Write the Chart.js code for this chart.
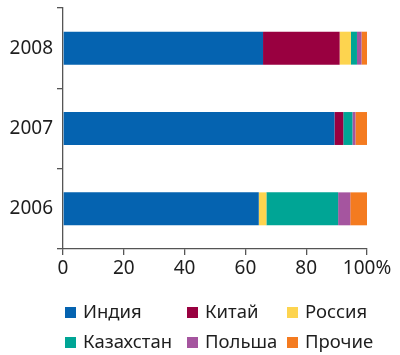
<!DOCTYPE html>
<html>
<head>
<meta charset="utf-8">
<script src="https://cdn.jsdelivr.net/npm/chart.js@4"></script>
<style>
html,body{margin:0;padding:0;background:#fff;}
#wrap{width:400px;height:355px;}
</style>
</head>
<body>
<div id="wrap"><canvas id="c" width="400" height="355"></canvas></div>
<script>
const years = ['2008', '2007', '2006'];
const seriesNames = ['Индия', 'Китай', 'Россия', 'Казахстан', 'Польша', 'Прочие'];
const india      = [65.8, 89.3, 64.4];
const china      = [25.2, 2.9, 0];
const russia     = [3.7, 0, 2.5];
const kazakhstan = [2.0, 3.0, 23.6];
const poland     = [1.5, 1.0, 4.0];
const others     = [1.8, 3.8, 5.5];
const xTickLabels = ['0', '20', '40', '60', '80', '100%'];

const colors = ['#0563b0', '#990040', '#fdd44f', '#00a595', '#a5559f', '#f47b20'];
const values = [india, china, russia, kazakhstan, poland, others];

const FONT = '"Noto Sans", "DejaVu Sans", sans-serif';

const legendPlugin = {
  id: 'gridLegend',
  afterDraw(chart) {
    const ctx = chart.ctx;
    const colX = [65, 187, 287];
    const rowY = [312, 342];
    ctx.save();
    ctx.font = '18.5px ' + FONT;
    ctx.textBaseline = 'middle';
    chart.data.datasets.forEach((ds, i) => {
      const x = colX[i % 3];
      const y = rowY[Math.floor(i / 3)];
      ctx.fillStyle = ds.backgroundColor;
      ctx.fillRect(x, y - 5, 11, 11);
      ctx.fillStyle = '#1e1e1e';
      ctx.fillText(ds.label, x + 18, y + 1);
    });
    ctx.restore();
  }
};

new Chart(document.getElementById('c'), {
  type: 'bar',
  data: {
    labels: years,
    datasets: seriesNames.map((name, i) => ({
      label: name,
      data: values[i],
      backgroundColor: colors[i],
      borderWidth: 0,
      barPercentage: 0.41,
      categoryPercentage: 1.0
    }))
  },
  options: {
    indexAxis: 'y',
    responsive: false,
    animation: false,
    layout: { padding: { left: 0, right: 33, top: 8, bottom: 71 } },
    plugins: {
      legend: { display: false },
      tooltip: { enabled: false }
    },
    scales: {
      x: {
        stacked: true,
        min: 0,
        max: 100,
        ticks: {
          stepSize: 20,
          color: '#1e1e1e',
          font: { family: FONT, size: 19 },
          padding: 2,
          maxRotation: 0,
          callback: (v, idx) => xTickLabels[idx]
        },
        grid: { drawOnChartArea: false, tickLength: 6, color: '#555', lineWidth: 1.3 },
        border: { display: true, color: '#555', width: 1.3 },
        afterFit: (s) => { s.height = 35; s.paddingLeft = 0; s.paddingRight = 0; }
      },
      y: {
        stacked: true,
        ticks: {
          color: '#1e1e1e',
          font: { family: FONT, size: 19 },
          padding: 4
        },
        grid: { offset: true, drawOnChartArea: false, tickLength: 6, color: '#555', lineWidth: 1.3 },
        border: { display: true, color: '#555', width: 1.3 },
        afterFit: (s) => { s.width = 63; s.paddingTop = 0; s.paddingBottom = 0; }
      }
    }
  },
  plugins: [legendPlugin]
});
</script>
</body>
</html>
